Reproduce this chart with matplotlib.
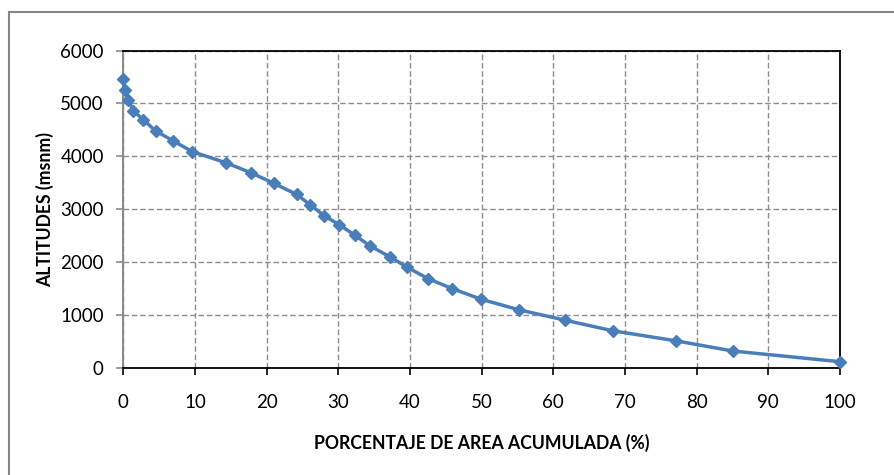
import matplotlib
matplotlib.use("Agg")
import matplotlib.pyplot as plt
from matplotlib.patches import Rectangle

plt.rcParams['font.family'] = ['Lato', 'DejaVu Sans']

# Data
area_pct = [0.0, 0.25, 0.7, 1.4, 2.8, 4.5, 7.0, 9.6, 14.3, 17.8, 21.0, 24.2, 26.1,
            28.0, 30.1, 32.3, 34.4, 37.2, 39.6, 42.5, 45.9, 49.9, 55.2, 61.6,
            68.3, 77.1, 85.1, 100.0]
altitudes = [5470, 5260, 5070, 4860, 4690, 4480, 4290, 4090, 3880, 3690, 3490, 3280,
             3080, 2880, 2710, 2510, 2310, 2100, 1905, 1690, 1500, 1300, 1100, 905,
             703, 514, 320, 119]
x_ticks = list(range(0, 101, 10))
y_ticks = list(range(0, 6001, 1000))
x_label = "PORCENTAJE DE AREA ACUMULADA (%)"
y_label = "ALTITUDES (msnm)"

W, H = 895, 475
fig = plt.figure(figsize=(W / 100, H / 100), dpi=100)
fig.patch.set_facecolor('white')

# outer chart border
fig.patches.append(Rectangle((8.5 / W, -0.2), 2.0, (H - 12) / H + 0.2,
                             transform=fig.transFigure, fill=False,
                             edgecolor='#868686', linewidth=1.5))

left, right, top, bottom = 123.3, 840.0, 50.5, 368.0
ax = fig.add_axes([left / W, 1 - bottom / H, (right - left) / W, (bottom - top) / H])

ax.plot(area_pct, altitudes, color='#4A7EBB', linewidth=2.5,
        marker='D', markersize=6.2, markerfacecolor='#4A7EBB',
        markeredgecolor='#4A7EBB', zorder=3, clip_on=False)

ax.set_xlim(0, 100)
ax.set_ylim(0, 6000)
ax.set_xticks(x_ticks)
ax.set_yticks(y_ticks)
ax.grid(True, color='#8C8C8C', linestyle=(0, (4, 2)), linewidth=1.0)
ax.set_axisbelow(True)

for s in ['top', 'right', 'bottom']:
    ax.spines[s].set_color('black')
    ax.spines[s].set_linewidth(1.3)
ax.spines['left'].set_color('#8C8C8C')
ax.spines['left'].set_linewidth(1.5)

ax.tick_params(axis='x', direction='out', length=5, width=1.2, color='black',
               labelsize=13.5, pad=14, labelcolor='black')
ax.tick_params(axis='y', direction='out', length=5, width=1.2, color='#8C8C8C',
               labelsize=13.5, pad=9, labelcolor='black')

fig.text(481.5 / W, 1 - 443 / H, x_label, ha='center', va='center',
         fontsize=12.7, fontweight='bold')
fig.text(45 / W, 1 - 209.3 / H, y_label, ha='center', va='center',
         rotation=90, fontsize=12.7, fontweight='bold')

fig.savefig('out.png', dpi=100)
